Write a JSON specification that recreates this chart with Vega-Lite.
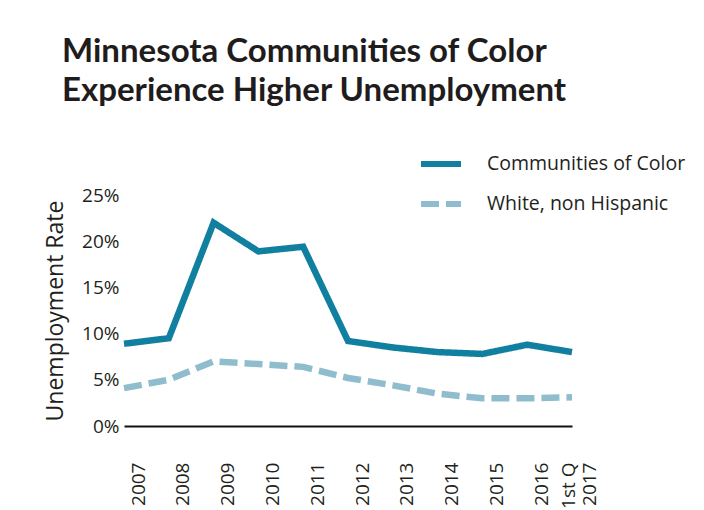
{
  "$schema": "https://vega.github.io/schema/vega-lite/v6.json",
  "width": 448,
  "height": 231,
  "autosize": "none",
  "padding": {"left": 124, "top": 195, "right": 132, "bottom": 84},
  "background": "white",
  "title": {
    "text": ["Minnesota Communities of Color", "Experience Higher Unemployment"],
    "anchor": "start",
    "frame": "group",
    "font": "Lato",
    "fontSize": 33,
    "fontWeight": "bold",
    "color": "#1f1c1d",
    "lineHeight": 39,
    "dx": -62,
    "offset": 33
  },
  "config": {
    "view": {"stroke": null},
    "font": "Open Sans"
  },
  "data": {
    "values": [
      {"period": "2007", "series": "Communities of Color", "rate": 8.9},
      {"period": "2008", "series": "Communities of Color", "rate": 9.5},
      {"period": "2009", "series": "Communities of Color", "rate": 22.0},
      {"period": "2010", "series": "Communities of Color", "rate": 18.9},
      {"period": "2011", "series": "Communities of Color", "rate": 19.4},
      {"period": "2012", "series": "Communities of Color", "rate": 9.2},
      {"period": "2013", "series": "Communities of Color", "rate": 8.5},
      {"period": "2014", "series": "Communities of Color", "rate": 8.0},
      {"period": "2015", "series": "Communities of Color", "rate": 7.8},
      {"period": "2016", "series": "Communities of Color", "rate": 8.8},
      {"period": "1st Q 2017", "series": "Communities of Color", "rate": 8.0},
      {"period": "2007", "series": "White, non Hispanic", "rate": 4.1},
      {"period": "2008", "series": "White, non Hispanic", "rate": 5.0},
      {"period": "2009", "series": "White, non Hispanic", "rate": 7.0},
      {"period": "2010", "series": "White, non Hispanic", "rate": 6.7},
      {"period": "2011", "series": "White, non Hispanic", "rate": 6.4},
      {"period": "2012", "series": "White, non Hispanic", "rate": 5.2},
      {"period": "2013", "series": "White, non Hispanic", "rate": 4.4},
      {"period": "2014", "series": "White, non Hispanic", "rate": 3.5},
      {"period": "2015", "series": "White, non Hispanic", "rate": 3.0},
      {"period": "2016", "series": "White, non Hispanic", "rate": 3.0},
      {"period": "1st Q 2017", "series": "White, non Hispanic", "rate": 3.1}
    ]
  },
  "mark": {"type": "line", "strokeWidth": 6.5},
  "encoding": {
    "x": {
      "field": "period",
      "type": "ordinal",
      "sort": null,
      "scale": {"type": "point", "padding": 0},
      "axis": {
        "title": null,
        "labelAngle": -90,
        "labelExpr": "datum.label == '1st Q 2017' ? ['1st Q', '2017'] : datum.label",
        "labelOffset": {"condition": {"test": "datum.label == '1st Q 2017'", "value": -4}, "value": 14},
        "ticks": false,
        "domainColor": "#111111",
        "domainWidth": 2,
        "labelFontSize": 19,
        "labelColor": "#231f20",
        "labelPadding": 36,
        "labelLineHeight": 21
      }
    },
    "y": {
      "field": "rate",
      "type": "quantitative",
      "scale": {"domain": [0, 25]},
      "axis": {
        "title": "Unemployment Rate",
        "values": [0, 5, 10, 15, 20, 25],
        "labelExpr": "datum.value + '%'",
        "grid": false,
        "domain": false,
        "ticks": false,
        "labelPadding": 5,
        "labelFontSize": 19,
        "labelColor": "#231f20",
        "titleFontSize": 23,
        "titleFontWeight": "normal",
        "titleColor": "#231f20",
        "titlePadding": 14
      }
    },
    "color": {
      "field": "series",
      "type": "nominal",
      "scale": {
        "domain": ["Communities of Color", "White, non Hispanic"],
        "range": ["#117fa0", "#8fbdcd"]
      },
      "legend": {
        "title": null,
        "orient": "none",
        "legendX": 294,
        "legendY": -54,
        "symbolType": "stroke",
        "symbolSize": 1600,
        "symbolStrokeWidth": 6,
        "labelFontSize": 19.5,
        "labelColor": "#231f20",
        "labelOffset": 23,
        "labelLimit": 0,
        "rowPadding": 5
      }
    },
    "strokeDash": {
      "field": "series",
      "type": "nominal",
      "scale": {
        "domain": ["Communities of Color", "White, non Hispanic"],
        "range": [[1, 0], [18, 7]]
      },
      "legend": {
        "title": null,
        "orient": "none",
        "legendX": 294,
        "legendY": -54,
        "symbolType": "stroke",
        "symbolSize": 1600,
        "symbolStrokeWidth": 6,
        "labelFontSize": 19.5,
        "labelColor": "#231f20",
        "labelOffset": 23,
        "labelLimit": 0,
        "rowPadding": 5
      }
    }
  }
}
